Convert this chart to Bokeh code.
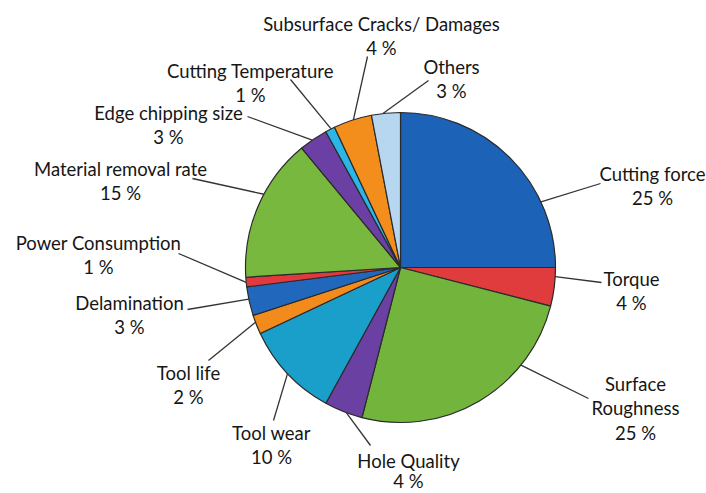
import math
from bokeh.plotting import figure
from bokeh.models import Range1d, ColumnDataSource
from bokeh.core.properties import value
from bokeh.embed import file_html
from bokeh.resources import INLINE

# ---- data ----
categories = ["Cutting force", "Torque", "Surface Roughness", "Hole Quality",
              "Tool wear", "Tool life", "Delamination", "Power Consumption",
              "Material removal rate", "Edge chipping size", "Cutting Temperature",
              "Subsurface Cracks/ Damages", "Others"]
percents = [25, 4, 25, 4, 10, 2, 3, 1, 15, 3, 1, 4, 3]

# ---- style ----
colors = ["#1c62b6", "#e03b3d", "#73b43d", "#6a40a2", "#1a9fca", "#f28b1c",
          "#2168bd", "#e2393f", "#78b83e", "#6b3fa3", "#2bb6e8", "#f38e1d", "#b7d6f0"]

# ---- layout (screen pixels, y downward) ----
W, H = 706, 493
CX, CY, R = 400, 267, 155
name_lines = {"Surface Roughness": ["Surface", "Roughness"]}
label_pos = {  # center x, center y of first line
    "Cutting force": (652, 173),
    "Torque": (631, 278),
    "Surface Roughness": (635, 383),
    "Hole Quality": (408, 460),
    "Tool wear": (271, 432),
    "Tool life": (188, 372),
    "Delamination": (129, 302),
    "Power Consumption": (98, 242),
    "Material removal rate": (120, 168),
    "Edge chipping size": (168, 112),
    "Cutting Temperature": (250, 70),
    "Subsurface Cracks/ Damages": (381, 23),
    "Others": (451, 66),
}
LINE_GAP = 24.5
gap_override = {"Hole Quality": 20.5}
leader_angle = {  # degrees clockwise from top where the leader touches the pie
    "Cutting force": 65, "Torque": 93.4, "Surface Roughness": 129,
    "Hole Quality": 200.4, "Tool wear": 226.8, "Tool life": 249.3,
    "Delamination": 258.2, "Power Consumption": 264.5,
    "Material removal rate": 298.2, "Edge chipping size": 325.3,
    "Cutting Temperature": 333.4, "Subsurface Cracks/ Damages": 342.3,
    "Others": 353.5,
}
leader_end = {
    "Cutting force": (600, 183), "Torque": (601, 282),
    "Surface Roughness": (588, 398), "Hole Quality": (370, 445),
    "Tool wear": (273, 420), "Tool life": (208, 360),
    "Delamination": (187, 309), "Power Consumption": (178, 253),
    "Material removal rate": (192, 178), "Edge chipping size": (247, 116),
    "Cutting Temperature": (290, 79), "Subsurface Cracks/ Damages": (367, 56),
    "Others": (428, 80),
}

def fy(y):
    return H - y

p = figure(width=W, height=H, output_backend="svg", toolbar_location=None,
           x_range=Range1d(0, W), y_range=Range1d(0, H), min_border=0)
p.axis.visible = False
p.grid.visible = False
p.outline_line_color = None
p.background_fill_color = "white"

total = sum(percents)
starts, ends = [], []
cum = 0
for v in percents:
    a0 = cum / total * 360
    cum += v
    a1 = cum / total * 360
    starts.append(math.radians(90 - a1))
    ends.append(math.radians(90 - a0))

src = ColumnDataSource(dict(start=starts, end=ends, color=colors, name=categories))
p.wedge(x=CX, y=fy(CY), radius=R, start_angle="start", end_angle="end",
        fill_color="color", line_color="#2a2a2a", line_width=1.2, source=src)

# leaders
x0, y0, x1, y1 = [], [], [], []
for c in categories:
    th = math.radians(leader_angle[c])
    x0.append(CX + R * math.sin(th))
    y0.append(fy(CY - R * math.cos(th)))
    ex, ey = leader_end[c]
    x1.append(ex)
    y1.append(fy(ey))
p.segment(x0=x0, y0=y0, x1=x1, y1=y1, line_color="#333333", line_width=1.3)

# labels
tx, ty, tt = [], [], []
for c, v in zip(categories, percents):
    lines = name_lines.get(c, [c]) + [f"{v} %"]
    lx, ly = label_pos[c]
    g = gap_override.get(c, LINE_GAP)
    for i, t in enumerate(lines):
        tx.append(lx)
        ty.append(fy(ly + i * g))
        tt.append(t)
p.text(x=tx, y=ty, text=tt, text_align="center", text_baseline="middle",
       text_font=value("Lato"), text_font_size="18.5px", text_color="#161616")

open("out.html", "w").write(file_html(p, INLINE))
